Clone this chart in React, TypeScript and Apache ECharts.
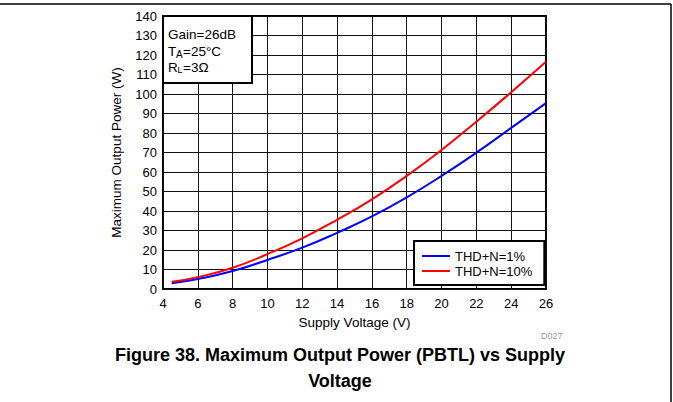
import React, { useEffect, useRef } from "react";
import * as echarts from "echarts";

const voltage = [4.5, 6, 8, 10, 12, 14, 16, 18, 20, 22, 24, 26];
const thd1 = [2.9, 5.1, 9.2, 14.9, 21.2, 28.8, 37.2, 47, 58, 69.9, 82.6, 95.3];
const thd10 = [3.7, 6.1, 10.9, 17.9, 26, 35.5, 46, 58, 71.3, 85.8, 100.9, 116.5];
const seriesNames = ["THD+N=1%", "THD+N=10%"];
const xTicks = { min: 4, max: 26, interval: 2 };
const yTicks = { min: 0, max: 140, interval: 10 };

const FONT = "'Liberation Sans', Arial, Helvetica, sans-serif";

export default function App() {
  const ref = useRef<HTMLDivElement>(null);
  useEffect(() => {
    if (!ref.current) return;
    const chart = echarts.init(ref.current, undefined, { renderer: "svg" });
    const toPairs = (ys: number[]) => voltage.map((v, i) => [v, ys[i]]);
    chart.setOption({
      animation: false,
      backgroundColor: "#fff",
      textStyle: { fontFamily: FONT },
      grid: {
        left: 163,
        right: 127,
        top: 16,
        bottom: 113,
        show: true,
        borderColor: "#000",
        borderWidth: 2,
        backgroundColor: "transparent",
      },
      xAxis: {
        type: "value",
        min: xTicks.min,
        max: xTicks.max,
        interval: xTicks.interval,
        name: "Supply Voltage (V)",
        nameLocation: "middle",
        nameGap: 26,
        nameTextStyle: { fontSize: 13.5, color: "#000", fontFamily: FONT },
        axisLine: { show: false },
        axisTick: { show: false },
        axisLabel: { fontSize: 13, color: "#000", margin: 8, fontFamily: FONT },
        splitLine: { show: true, lineStyle: { color: "#111", width: 1 } },
      },
      yAxis: {
        type: "value",
        min: yTicks.min,
        max: yTicks.max,
        interval: yTicks.interval,
        name: "Maximum Output Power (W)",
        nameLocation: "middle",
        nameGap: 40,
        nameRotate: 90,
        nameTextStyle: { fontSize: 13.5, color: "#000", fontFamily: FONT },
        axisLine: { show: false },
        axisTick: { show: false },
        axisLabel: { fontSize: 13, color: "#000", margin: 6, fontFamily: FONT },
        splitLine: { show: true, lineStyle: { color: "#111", width: 1 } },
      },
      legend: {
        orient: "vertical",
        left: 414,
        top: 241,
        padding: [8, 12, 7, 8],
        itemGap: 1,
        itemWidth: 28,
        itemHeight: 2,
        icon: "rect",
        backgroundColor: "#fff",
        borderColor: "#000",
        borderWidth: 2,
        borderRadius: 0,
        textStyle: { fontSize: 13, color: "#000", fontFamily: FONT, lineHeight: 14 },
        data: seriesNames,
      },
      series: [
        {
          name: seriesNames[0],
          type: "line",
          smooth: true,
          showSymbol: false,
          data: toPairs(thd1),
          lineStyle: { color: "#0000ff", width: 2 },
          itemStyle: { color: "#0000ff" },
        },
        {
          name: seriesNames[1],
          type: "line",
          smooth: true,
          showSymbol: false,
          data: toPairs(thd10),
          lineStyle: { color: "#ff0000", width: 2 },
          itemStyle: { color: "#ff0000" },
        },
      ],
      graphic: [
        { type: "line", shape: { x1: 0, y1: 4, x2: 671, y2: 4 }, style: { stroke: "#000", lineWidth: 1.5 } },
        { type: "line", shape: { x1: 671, y1: 4, x2: 671, y2: 402 }, style: { stroke: "#000", lineWidth: 1.5 } },
        {
          type: "rect",
          shape: { x: 163, y: 16, width: 89, height: 67 },
          style: { fill: "#fff", stroke: "#000", lineWidth: 2 },
          z: 10,
        },
        { type: "text", x: 168, y: 34, z: 11, style: { text: "Gain=26dB", fontSize: 13.5, fontFamily: FONT, fill: "#000", verticalAlign: "middle" } },
        { type: "text", x: 168, y: 51, z: 11, style: { text: "T", fontSize: 13.5, fontFamily: FONT, fill: "#000", verticalAlign: "middle" } },
        { type: "text", x: 176, y: 54, z: 11, style: { text: "A", fontSize: 10, fontFamily: FONT, fill: "#000", verticalAlign: "middle" } },
        { type: "text", x: 183, y: 51, z: 11, style: { text: "=25°C", fontSize: 13.5, fontFamily: FONT, fill: "#000", verticalAlign: "middle" } },
        { type: "text", x: 168, y: 67, z: 11, style: { text: "R", fontSize: 13.5, fontFamily: FONT, fill: "#000", verticalAlign: "middle" } },
        { type: "text", x: 177.5, y: 70, z: 11, style: { text: "L", fontSize: 9, fontFamily: FONT, fill: "#000", verticalAlign: "middle" } },
        { type: "text", x: 183, y: 67, z: 11, style: { text: "=3Ω", fontSize: 13.5, fontFamily: FONT, fill: "#000", verticalAlign: "middle" } },
        { type: "text", x: 541, y: 336, style: { text: "D027", fontSize: 9, fontFamily: FONT, fill: "#999", verticalAlign: "middle" } },
        {
          type: "text",
          x: 340,
          y: 355,
          style: { text: "Figure 38. Maximum Output Power (PBTL) vs Supply", fontSize: 18, fontWeight: "bold", fontFamily: FONT, fill: "#000", align: "center", verticalAlign: "middle" },
        },
        {
          type: "text",
          x: 340,
          y: 381,
          style: { text: "Voltage", fontSize: 18, fontWeight: "bold", fontFamily: FONT, fill: "#000", align: "center", verticalAlign: "middle" },
        },
      ],
    });
    return () => chart.dispose();
  }, []);
  return (
    <div
      ref={ref}
      style={{ position: "fixed", left: 0, top: 0, width: 673, height: 402 }}
    />
  );
}
